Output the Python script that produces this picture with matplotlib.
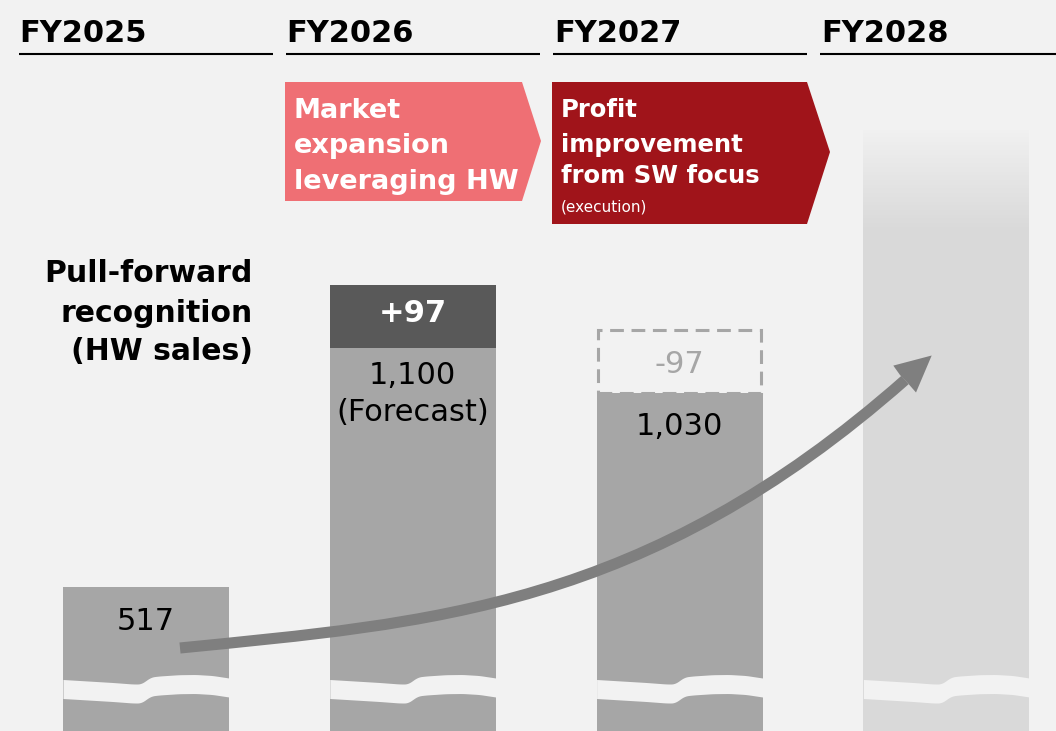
import numpy as np
import matplotlib.pyplot as plt
from matplotlib.path import Path
from matplotlib.patches import PathPatch, Polygon
from matplotlib.colors import to_rgb

plt.rcParams['font.family'] = ['DejaVu Sans']

# data
years = ["FY2025", "FY2026", "FY2027", "FY2028"]
sales = [517, 1100, 1030]          # FY2025 actual, FY2026 forecast, FY2027 plan
pull_forward = 97                  # HW sales recognised early in FY2026
fy2028_top = 1435                  # outlook bar, no figure attached
fade_span = 154                    # faded top part of the outlook bar

BG = "#F2F2F2"
GRAY = "#A6A6A6"
DARK = "#595959"
LIGHT = "#D9D9D9"
ARROW = "#7F7F7F"

# the chart is not to scale: values above the knee are stretched
KNEE, LOW, HIGH = 1030, 0.378, 0.65


def fwd(v):
    v = np.asarray(v, float)
    return np.where(v <= KNEE, v * LOW, KNEE * LOW + (v - KNEE) * HIGH)


def inv(f):
    f = np.asarray(f, float)
    return np.where(f <= KNEE * LOW, f / LOW, KNEE + (f - KNEE * LOW) / HIGH)


W, H = 1056, 731
fig = plt.figure(figsize=(W / 100, H / 100), dpi=100, facecolor=BG)

# bar axes
ax = fig.add_axes([0, 0, 1, 1], facecolor=BG)
ax.set_yscale('function', functions=(fwd, inv))
ax.set_ylim(136, 1635)
ax.set_xlim(-0.5472, 3.4108)
ax.axis('off')

x = np.arange(len(years))
bw = 0.622

# FY2027: dashed outline of the amount moved into FY2026
ax.bar(x[2], pull_forward, bottom=sales[2], width=bw - 0.01, facecolor='none',
       edgecolor=GRAY, linewidth=2.2, linestyle=(0, (4.5, 2.5)), zorder=1)
ax.bar(x[:3], sales, width=bw, color=GRAY, zorder=2)
ax.bar(x[1], pull_forward, bottom=sales[1], width=bw, color=DARK, zorder=2)

# FY2028 outlook bar with a faded top
fade_start = fy2028_top - fade_span
ax.bar(x[3], fade_start, width=bw, color=LIGHT, zorder=2)
c0, c1 = np.array(to_rgb(LIGHT)), np.array(to_rgb("#F0F0F0"))
edges = np.linspace(fade_start, fy2028_top, 61)
for k in range(60):
    t = k / 59
    ax.bar(x[3], edges[k + 1] - edges[k], bottom=edges[k], width=bw,
           color=c0 * (1 - t) + c1 * t, linewidth=0, zorder=2)


def px(p):
    return -p * 0.72


lab = dict(ha='center', va='baseline', fontsize=22, textcoords='offset points', zorder=3)
ax.annotate(f"{sales[0]:,}", (x[0], sales[0]), xytext=(0, px(43)), **lab)
ax.annotate(f"{sales[1]:,}", (x[1], sales[1]), xytext=(0, px(36)), **lab)
ax.annotate("(Forecast)", (x[1], sales[1]), xytext=(0, px(73)), **lab)
ax.annotate(f"{sales[2]:,}", (x[2], sales[2]), xytext=(0, px(42)), **lab)
ax.annotate(f"+{pull_forward}", (x[1], sales[1] + pull_forward), xytext=(0, px(37)),
            color='white', fontweight='bold', **{k: v for k, v in lab.items()})
ax.annotate(f"-{pull_forward}", (x[2], sales[2] + pull_forward), xytext=(0, px(43)),
            color=GRAY, **lab)

# overlay in pixel units for headers, banners, break marks and the arrow
ov = fig.add_axes([0, 0, 1, 1])
ov.set_zorder(2)
ov.patch.set_visible(False)
ov.set_xlim(0, W)
ov.set_ylim(H, 0)
ov.axis('off')

for i, yr in enumerate(years):
    x0 = 18.6 + 267.1 * i
    ov.plot([x0, x0 + 254], [54, 54], color='black', lw=1.5, solid_capstyle='butt')
    ov.text(x0 + 1, 41.5, yr, fontsize=22, fontweight='bold', va='baseline')

# break marks across the bar bottoms
uk = [0, 0.15, 0.3, 0.42, 0.47, 0.5, 0.53, 0.58, 0.7, 0.8, 0.9, 1.0]
ck = [689, 690.5, 692, 693.5, 693.5, 690, 686.5, 685.5, 684.2, 684, 685, 687.5]
u = np.linspace(0, 1, 200)
cy = np.convolve(np.interp(u, uk, ck), np.ones(9) / 9, mode='same')
cy[:4], cy[-4:] = np.interp(u[:4], uk, ck), np.interp(u[-4:], uk, ck)
for i in range(4):
    left = 146 + 266.8 * i - 83
    ov.fill_between(left + u * 166, cy - 9.5, cy + 9.5, color=BG, lw=0, zorder=1)

# banners
pink = Polygon([(285, 82), (522, 82), (541, 141), (522, 201), (285, 201)],
               closed=True, color="#EF6F74", lw=0)
red = Polygon([(552, 82), (807, 82), (830, 152), (807, 224), (552, 224)],
              closed=True, color="#A0141A", lw=0)
ov.add_patch(pink)
ov.add_patch(red)
for yb, s in zip([117.7, 153.3, 189.3], ["Market", "expansion", "leveraging HW"]):
    ov.text(294, yb, s, color='white', fontsize=19.5, fontweight='bold', va='baseline')
for yb, s in zip([116.7, 151.7, 183.3], ["Profit", "improvement", "from SW focus"]):
    ov.text(561, yb, s, color='white', fontsize=17.5, fontweight='bold', va='baseline')
ov.text(561, 211.7, "(execution)", color='white', fontsize=11, va='baseline')

for yb, s in zip([282, 321.5, 360], ["Pull-forward", "recognition", "(HW sales)"]):
    ov.text(253, yb, s, fontsize=21.5, fontweight='bold', ha='right', va='baseline')

# growth arrow
curve = Path([(180, 648), (430, 623), (645, 609), (905, 380)],
             [Path.MOVETO, Path.CURVE4, Path.CURVE4, Path.CURVE4])
ov.add_patch(PathPatch(curve, fill=False, edgecolor=ARROW, lw=8, capstyle='butt', zorder=3))
head = Polygon([(931.7, 355.5), (893.3, 365.6), (900, 375), (908.3, 383.7), (916, 392.5)],
               closed=True, color=ARROW, lw=0, zorder=3)
ov.add_patch(head)

fig.savefig("out.png", dpi=100, facecolor=BG)
